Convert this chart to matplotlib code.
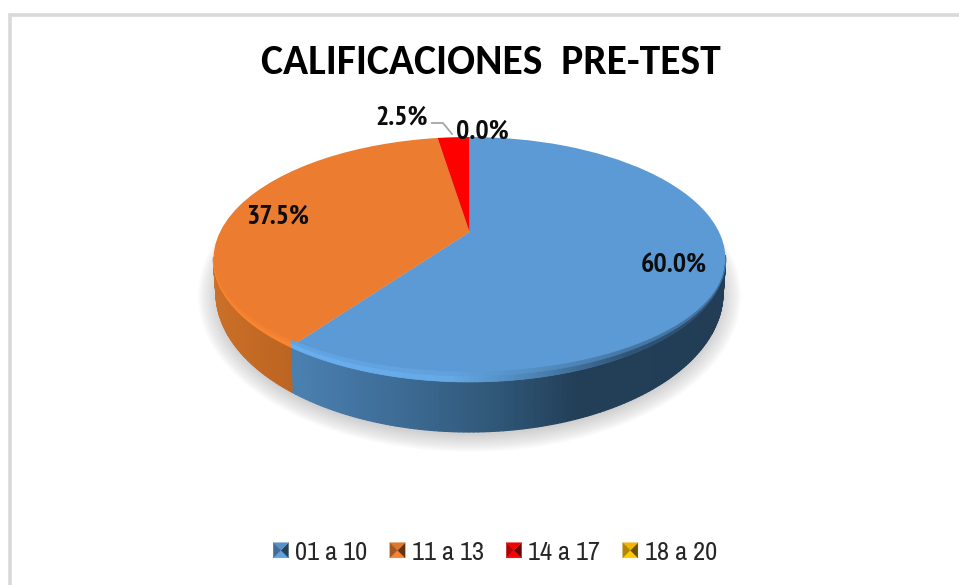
import numpy as np
import matplotlib
matplotlib.use('Agg')
import matplotlib.pyplot as plt
from matplotlib.collections import PolyCollection
from matplotlib.colors import to_rgb
from matplotlib.font_manager import FontProperties
from matplotlib.legend_handler import HandlerBase
from matplotlib.patches import Ellipse, Patch, Polygon
from matplotlib.transforms import Transform

plt.rcParams['font.family'] = ['Liberation Sans', 'DejaVu Sans']

# data
categories = ['01 a 10', '11 a 13', '14 a 17', '18 a 20']
values = [60.0, 37.5, 2.5, 0.0]
title = 'CALIFICACIONES  PRE-TEST'
face_colors = ['#5b9ad5', '#eb7c30', '#ff0000', '#ffc000']

# pie geometry in image pixels
CX, APEX_Y, R, B, K = 469.5, 232.0, 249.5, 116.3, 0.2245
RIM_CY, RIM_RY = 259.5, 122.5
LOW_CY, LOW_RY, LOW_X = 293.0, 139.0, 0.99

NARROW = ['Archivo Narrow', 'Liberation Sans Narrow', 'Liberation Sans']
NARROW_BOLD = ['PT Sans Narrow', 'Liberation Sans Narrow', 'Liberation Sans']


class Persp(Transform):
    # flat unit pie -> tilted pie
    input_dims = output_dims = 2
    has_inverse = False
    is_separable = False

    def transform_non_affine(self, values):
        u, v = values[:, 0], values[:, 1]
        d = 1 + K * v
        return np.column_stack([CX + R * u / d, APEX_Y - B * v / d])


persp = Persp()


def rim(t):
    t = np.radians(t)
    return persp.transform_non_affine(np.column_stack([np.sin(t), np.cos(t)]))


def lower(p):
    return np.column_stack([CX + (p[:, 0] - CX) * LOW_X,
                            LOW_CY + (p[:, 1] - RIM_CY) * LOW_RY / RIM_RY])


def ramp(x, stops):
    xs = [s[0] for s in stops]
    rgb = np.array([to_rgb(s[1]) for s in stops])
    return np.column_stack([np.interp(x, xs, rgb[:, i]) for i in range(3)])


side_stops = [
    [(296, '#4a80b0'), (400, '#3d6b95'), (500, '#2f5676'), (575, '#233f58'), (727, '#223d55')],
    [(212, '#cb7028'), (295, '#bb6321')],
    [(400, '#c00000'), (500, '#c00000')],
    [(400, '#c09000'), (500, '#c09000')],
]
bevel_stops = [
    [(296, '#69aef0'), (450, '#66a9e6'), (560, '#4476a3'), (630, '#2f5374'), (727, '#2c4e6e')],
    [(212, '#fb8630'), (295, '#fb8630')],
    [(400, '#ff3030'), (500, '#ff3030')],
    [(400, '#ffd040'), (500, '#ffd040')],
]

fig = plt.figure(figsize=(9.59, 5.85), dpi=100)
ax = fig.add_axes([0, 0, 1, 1])

wedges, _ = ax.pie(values, colors=face_colors, startangle=90, counterclock=False, radius=1)
ax.set_aspect('auto')
ax.set_xlim(0, 959)
ax.set_ylim(585, 0)
ax.axis('off')

for w in wedges:
    w.set_transform(persp + ax.transData)
    w.set_linewidth(0)
    w.set_zorder(5)

# soft shadow under the pie
for i in range(14):
    ax.add_patch(Ellipse((CX, LOW_CY + 3), 2 * (252 + i * 1.5), 2 * (LOW_RY + i * 1.3),
                         fc='#555555', ec='none', alpha=0.02, zorder=1))

# side wall and bevel, slice by slice
edges = np.cumsum([0] + values) / sum(values) * 360
for i in range(len(values)):
    if values[i] == 0:
        continue
    t = np.linspace(edges[i], edges[i + 1], int(values[i] * 4) + 2)
    p = rim(t)
    q = lower(p)
    front = [j for j in range(len(t) - 1) if p[j, 1] > RIM_CY - 4 and p[j + 1, 1] > RIM_CY - 4]
    if not front:
        continue
    quads = [[p[j], p[j + 1], q[j + 1], q[j]] for j in front]
    mid_x = (p[:-1, 0] + p[1:, 0]) / 2
    cols = ramp(mid_x[front], side_stops[i])
    ax.add_collection(PolyCollection(quads, facecolors=cols, edgecolors=cols, linewidths=0.9, zorder=3))

    # bevel only on the front half
    h = 10 * np.clip((p[:, 1] - RIM_CY) / RIM_RY, 0, 1)
    up1 = p - np.column_stack([0 * h, h * 0.6])
    up2 = p - np.column_stack([0 * h, h])
    bc = ramp(mid_x[front], bevel_stops[i])
    face = np.array(to_rgb(face_colors[i]))
    soft = (bc + face) / 2
    for a, b, c in [(p, up1, bc), (up1, up2, soft)]:
        q2 = [[a[j], a[j + 1], b[j + 1], b[j]] for j in front]
        ax.add_collection(PolyCollection(q2, facecolors=c, edgecolors=c, linewidths=0.5, zorder=6))

# chart frame
ax.plot([9.5, 9.5, 959], [585, 14.5, 14.5], color='#d9d9d9', lw=2.6, solid_joinstyle='miter', zorder=2)

ax.text(490.5, 62, title, family=['Carlito', 'Lato'], weight='bold', fontsize=29.9, color='black',
        ha='center', va='center', zorder=8)

# data labels
label_xy = [(674, 266), (278, 217), (402, 118), (482, 132)]
for v, (x, y) in zip(values, label_xy):
    ax.text(x, y, f'{v:.1f}%', family=NARROW_BOLD, weight='bold',
            fontsize=20, color='#0d0d0d', ha='center', va='center', zorder=9)
ax.plot([432, 443, 452], [123, 123, 134], color='#a6a6a6', lw=1.3, zorder=7)


class PyramidHandler(HandlerBase):
    # legend key drawn as a bevelled square
    def create_artists(self, legend, orig, x0, y0, w, h, fontsize, trans):
        c = np.array(to_rgb(orig.get_facecolor()))
        s = 11
        x = x0 + w - s
        y = y0 + h / 2 - s / 2
        m = (x + s / 2, y + s / 2)
        corners = [(x, y), (x + s, y), (x + s, y + s), (x, y + s)]
        shades = [1.05, 0.42, 0.95, 0.7]
        out = []
        for n in range(4):
            col = np.clip(c * shades[n], 0, 1)
            out.append(Polygon([corners[n], corners[(n + 1) % 4], m], fc=col, ec=col, lw=0.2, transform=trans))
        return out


handles = [Patch(facecolor=c, label=n) for c, n in zip(face_colors, categories)]
leg = ax.legend(handles=handles, ncol=4, frameon=False, prop=FontProperties(family=NARROW, size=19),
                labelcolor='#262626', handler_map={Patch: PyramidHandler()}, handlelength=0.58,
                handletextpad=0.25, columnspacing=0.85, borderpad=0, borderaxespad=0,
                loc='center', bbox_to_anchor=(495 / 959, 1 - 552 / 585))
leg.set_zorder(9)

fig.savefig('out.png', dpi=100)
plt.close()
